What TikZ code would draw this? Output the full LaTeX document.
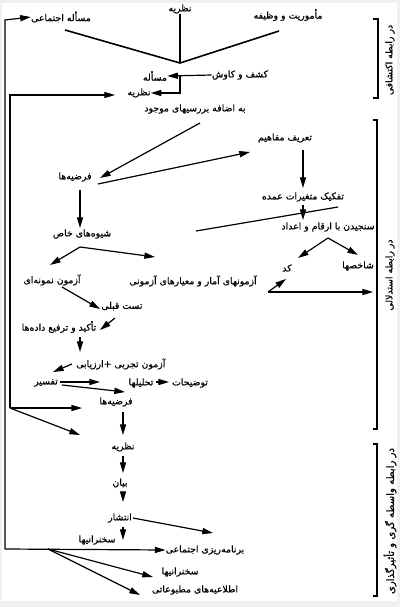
\documentclass[tikz,border=0pt]{standalone}
\usepackage{fontspec}
\newfontfamily\fa[Script=Arabic,FakeBold=0.6]{DejaVu Sans}
\TeXXeTstate=1
\usetikzlibrary{arrows.meta}
\begin{document}
\begin{tikzpicture}[x=0.75pt,y=-0.75pt,
  lbl/.style={font=\fa\fontsize{7}{8}\selectfont, inner sep=0pt},
  conn/.style={line width=0.9pt},
  thick conn/.style={line width=1.2pt},
  arr/.style={conn,-{Triangle[length=8pt,width=4.6pt]}}]
\fill[gray!12] (0,0) rectangle (400,607);
\fill[white] (2,3) rectangle (397,601);
\useasboundingbox (0,0) rectangle (400,607);
% nodes
\node[lbl] (nTop) at (180,9) {\beginR نظریه\endR};
\node[lbl] (nMam) at (288,15) {\beginR مأموریت و وظیفه\endR};
\node[lbl] (nMas) at (61,17) {\beginR مسأله اجتماعی\endR};
\node[lbl] (nKash) at (240,75) {\beginR کشف و کاوش\endR};
\node[lbl] (nMasale) at (155,76) {\beginR مسأله\endR};
\node[lbl] (nNaz2) at (139,93) {\beginR نظریه\endR};
\node[lbl] (nBe) at (195,109) {\beginR به اضافه بررسیهای موجود\endR};
\node[lbl] (nTarif) at (285,138) {\beginR تعریف مفاهیم\endR};
\node[lbl] (nFarz1) at (75,177) {\beginR فرضیه‌ها\endR};
\node[lbl] (nTafkik) at (303,197) {\beginR تفکیک متغیرات عمده\endR};
\node[lbl] (nSanj) at (328,227) {\beginR سنجیدن با ارقام و اعداد\endR};
\node[lbl] (nShive) at (82,234) {\beginR شیوه‌های خاص\endR};
\node[lbl] (nKod) at (287,268) {\beginR کد\endR};
\node[lbl] (nShakh) at (358,266) {\beginR شاخصها\endR};
\node[lbl] (nAzNem) at (52,280) {\beginR آزمون نمونه‌ای\endR};
\node[lbl] (nAzAm) at (193,281) {\beginR آزمونهای آمار و معیارهای آزمونی\endR};
\node[lbl,anchor=west] (nTest) at (101,306) {\beginR تست قبلی\endR};
\node[lbl] (nTakid) at (59,327) {\beginR تأکید و ترفیع داده‌ها\endR};
\node[lbl,anchor=west] (nTajr) at (76,364) {\beginR آزمون تجربی +ارزیابی\endR};
\node[lbl] (nTafsir) at (46,383) {\beginR تفسیر\endR};
\node[lbl] (nTahlil) at (141,383) {\beginR تحلیلها\endR};
\node[lbl] (nTozih) at (190,383) {\beginR توضیحات\endR};
\node[lbl] (nFarz2) at (116,402) {\beginR فرضیه‌ها\endR};
\node[lbl] (nNaz3) at (123,447) {\beginR نظریه\endR};
\node[lbl] (nBayan) at (120,483) {\beginR بیان\endR};
\node[lbl] (nEnt) at (120,518) {\beginR انتشار\endR};
\node[lbl] (nSokh1) at (97,540) {\beginR سخنرانیها\endR};
\node[lbl] (nBarn) at (205,550) {\beginR برنامه‌ریزی اجتماعی\endR};
\node[lbl] (nSokh2) at (180,572) {\beginR سخنرانیها\endR};
\node[lbl] (nEtt) at (195,590) {\beginR اطلاعیه‌های مطبوعاتی\endR};
\node[lbl,rotate=90] (bL1) at (390,60) {\beginR در رابطه اکتشافی\endR};
\node[lbl,rotate=90] (bL2) at (390,275) {\beginR در رابطه استدلالی\endR};
\node[lbl,rotate=90,font=\fa\fontsize{7.6}{8}\selectfont] (bL3) at (390,521) {\beginR در رابطه واسطه گری و تأثیرگذاری\endR};
% coordinates
\coordinate (vJ) at (180,63);
\coordinate (kJ) at (180,76);
\coordinate (iTop) at (10,95);
\coordinate (iBot) at (10,408);
\coordinate (oTop) at (5,20);
\coordinate (oBot) at (5,549);
\coordinate (oD) at (48,549);
% top V
\draw[thick conn] (65,30) -- (vJ);
\draw[thick conn] (nTop.south) -- (vJ);
\draw[thick conn] (279,31) -- (vJ);
\draw[arr] (nKash.west) -- (nMasale.east);
\draw[arr] (kJ) -- (180,93) -- (nNaz2.east);
% loops on the left
\draw[arr] (oBot) -- (oTop) -- (nMas.west);
\draw[arr] (oBot) -- (nBarn.west);
\draw[arr] (oD) -- (153,577);
\draw[arr] (oD) -- (140,595);
\draw[arr] (iBot) -- (iTop) -- (115,95);
\draw[arr] (iBot) -- (82,408);
\draw[arr] (iBot) -- (80,435);
% middle
\draw[arr] (200,123) -- (100,178);
\draw[arr] (98,184) -- (250,152);
\draw[arr] (303,150) -- (303,188);
\draw[arr] (303,205) -- (303,220);
\draw[conn] (196,231) -- (338,207);
\draw[arr] (80,190) -- (80,228);
\draw[arr] (80,247) -- (50,265);
\draw[arr] (80,247) -- (155,257);
\draw[arr] (328,238) -- (298,258);
\draw[arr] (328,238) -- (358,255);
\draw[arr] (268,292) -- (286,279);
\draw[arr] (268,292) -- (373,292);
\draw[arr] (62,287) -- (100,309);
\draw[arr] (115,318) -- (100,330);
\draw[arr] (80,337) -- (80,352);
\draw[arr] (72,364) -- (53,372);
\draw[arr] (60,382) -- (100,382);
\draw[arr] (156,382) -- (169,382);
\draw[arr] (62,385) -- (125,392);
\draw[arr] (123,412) -- (123,435);
\draw[arr] (123,456) -- (123,473);
\draw[arr] (123,492) -- (123,502);
\draw[arr] (123,527) -- (123,540);
\draw[arr] (133,518) -- (213,533);
% brackets
\draw[conn] (373,19) -- (378,19) -- (378,98) -- (373,98);
\draw[conn] (373,120) -- (377,120) -- (377,429) -- (373,429);
\draw[conn] (373,444) -- (377,444) -- (377,596) -- (373,596);
\end{tikzpicture}
\end{document}
